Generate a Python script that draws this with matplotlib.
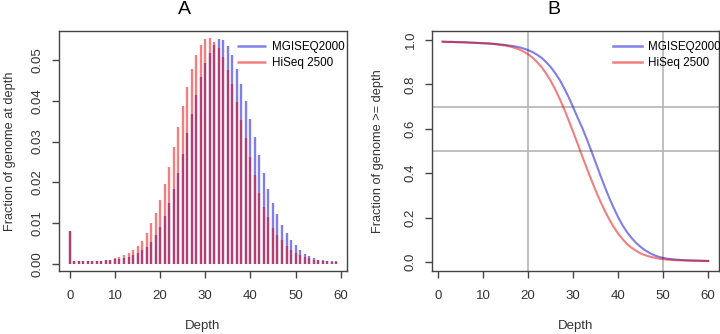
import numpy as np
import matplotlib
matplotlib.use("Agg")
from matplotlib import pyplot as plt

plt.rcParams['font.family'] = ['Liberation Sans', 'DejaVu Sans']

# panel A: fraction of genome at each depth (0..59)
depth_a = list(range(60))
hiseq_frac = [0.0080, 0.0007, 0.0007, 0.0007, 0.0007, 0.0007, 0.0007, 0.0007, 0.0009, 0.0011,
              0.0014, 0.0017, 0.0022, 0.0027, 0.0034, 0.0044, 0.0057, 0.0075, 0.0100, 0.0124,
              0.0157, 0.0195, 0.0238, 0.0288, 0.0337, 0.0387, 0.0434, 0.0477, 0.0513, 0.0537,
              0.0551, 0.0555, 0.0545, 0.0530, 0.0508, 0.0476, 0.0440, 0.0398, 0.0354, 0.0308,
              0.0263, 0.0218, 0.0173, 0.0139, 0.0115, 0.0088, 0.0072, 0.0058, 0.0045, 0.0034,
              0.0027, 0.0021, 0.0017, 0.0014, 0.0011, 0.0010, 0.0008, 0.0007, 0.0006, 0.0006]
mgi_frac = [0.0080, 0.0008, 0.0008, 0.0008, 0.0008, 0.0008, 0.0008, 0.0008, 0.0009, 0.0010,
            0.0012, 0.0013, 0.0015, 0.0018, 0.0022, 0.0027, 0.0034, 0.0043, 0.0055, 0.0072,
            0.0092, 0.0118, 0.0150, 0.0185, 0.0224, 0.0270, 0.0320, 0.0368, 0.0414, 0.0459,
            0.0493, 0.0518, 0.0537, 0.0551, 0.0549, 0.0534, 0.0513, 0.0479, 0.0442, 0.0400,
            0.0356, 0.0311, 0.0266, 0.0222, 0.0185, 0.0150, 0.0123, 0.0096, 0.0077, 0.0059,
            0.0047, 0.0035, 0.0025, 0.0019, 0.0014, 0.0011, 0.0009, 0.0008, 0.0007, 0.0007]

# panel B: fraction of genome >= depth (1..60)
depth_b = list(range(1, 61))
hiseq_cum = [0.992, 0.991, 0.991, 0.990, 0.989, 0.989, 0.988, 0.987, 0.986, 0.985,
             0.984, 0.982, 0.980, 0.977, 0.974, 0.970, 0.964, 0.957, 0.947, 0.935,
             0.920, 0.900, 0.877, 0.849, 0.816, 0.778, 0.735, 0.689, 0.638, 0.586,
             0.532, 0.477, 0.424, 0.372, 0.322, 0.275, 0.232, 0.193, 0.158, 0.128,
             0.103, 0.081, 0.064, 0.051, 0.039, 0.031, 0.025, 0.020, 0.016, 0.013,
             0.011, 0.0095, 0.0085, 0.0078, 0.0072, 0.0067, 0.0062, 0.0058, 0.0055, 0.0050]
mgi_cum = [0.992, 0.991, 0.991, 0.990, 0.990, 0.989, 0.988, 0.987, 0.986, 0.985,
           0.984, 0.983, 0.981, 0.979, 0.977, 0.974, 0.971, 0.967, 0.961, 0.954,
           0.945, 0.933, 0.919, 0.900, 0.878, 0.851, 0.820, 0.783, 0.742, 0.697,
           0.650, 0.605, 0.555, 0.502, 0.448, 0.393, 0.340, 0.290, 0.244, 0.202,
           0.165, 0.134, 0.108, 0.086, 0.068, 0.053, 0.041, 0.031, 0.024, 0.019,
           0.015, 0.013, 0.011, 0.0095, 0.0085, 0.0075, 0.0068, 0.0062, 0.0057, 0.0053]

labels = ["MGISEQ2000", "HiSeq 2500"]
blue = (0.0, 0.0, 0.8, 0.5)
red = (0.9, 0.0, 0.0, 0.5)
frame = "#444444"

fig = plt.figure(figsize=(7.2, 3.34), dpi=100)
ax1 = fig.add_axes([59 / 720, 63 / 334, 288 / 720, 240 / 334])
ax2 = fig.add_axes([432 / 720, 63 / 334, 287 / 720, 240 / 334])

ax1.vlines(depth_a, 0, mgi_frac, color=blue, lw=1.7, label=labels[0])
ax1.vlines(depth_a, 0, hiseq_frac, color=red, lw=1.7, label=labels[1])
ax1.set_xlim(-2.4, 61.4)
ax1.set_ylim(-0.0017, 0.0571)
ax1.set_xticks([0, 10, 20, 30, 40, 50, 60])
ax1.set_yticks([0.0, 0.01, 0.02, 0.03, 0.04, 0.05])
ax1.set_yticklabels(["0.00", "0.01", "0.02", "0.03", "0.04", "0.05"])
ax1.set_ylabel("Fraction of genome at depth")

for x in [20, 50]:
    ax2.axvline(x, color="#b4b4b4", lw=1.2, zorder=0)
for y in [0.5, 0.7]:
    ax2.axhline(y, color="#b4b4b4", lw=1.2, zorder=0)
ax2.plot(depth_b, mgi_cum, color=blue, lw=1.5, label=labels[0])
ax2.plot(depth_b, hiseq_cum, color=red, lw=1.5, label=labels[1])
ax2.set_xlim(-1.36, 62.4)
ax2.set_ylim(-0.04, 1.04)
ax2.set_xticks([0, 10, 20, 30, 40, 50, 60])
ax2.set_yticks([0.0, 0.2, 0.4, 0.6, 0.8, 1.0])
ax2.set_ylabel("Fraction of genome >= depth")

for ax, shift in [(ax1, 1.025), (ax2, 1.04)]:
    for s in ax.spines.values():
        s.set_color(frame)
        s.set_linewidth(1.0)
    ax.tick_params(direction="out", length=5, width=1.0, color=frame,
                   labelcolor="#333333", labelsize=9.5)
    ax.tick_params(axis="x", pad=9)
    ax.tick_params(axis="y", pad=6)
    for t in ax.get_yticklabels():
        t.set_rotation(90)
        t.set_va("center")
    ax.set_xlabel("Depth", fontsize=9.5, color="#333333")
    ax.xaxis.set_label_coords(0.5, -0.205)
    ax.yaxis.label.set_fontsize(9.2)
    ax.yaxis.label.set_color("#333333")
    ax.yaxis.label.set_va("center")
    leg = ax.legend(loc="upper right", bbox_to_anchor=(shift, 1.0), frameon=False,
                    fontsize=8.4, handlelength=2.5, handletextpad=0.5,
                    labelspacing=0.35, borderaxespad=0.45)
    for h in leg.get_lines():
        h.set_linewidth(1.8)

ax1.yaxis.set_label_coords(-0.17, 0.5)
ax2.yaxis.set_label_coords(-0.188, 0.5)

fig.text(184 / 720, 1 - 9 / 334, "A", fontsize=14, ha="center", va="center")
fig.text(554 / 720, 1 - 9 / 334, "B", fontsize=14, ha="center", va="center")

fig.savefig("out.png", dpi=100)
